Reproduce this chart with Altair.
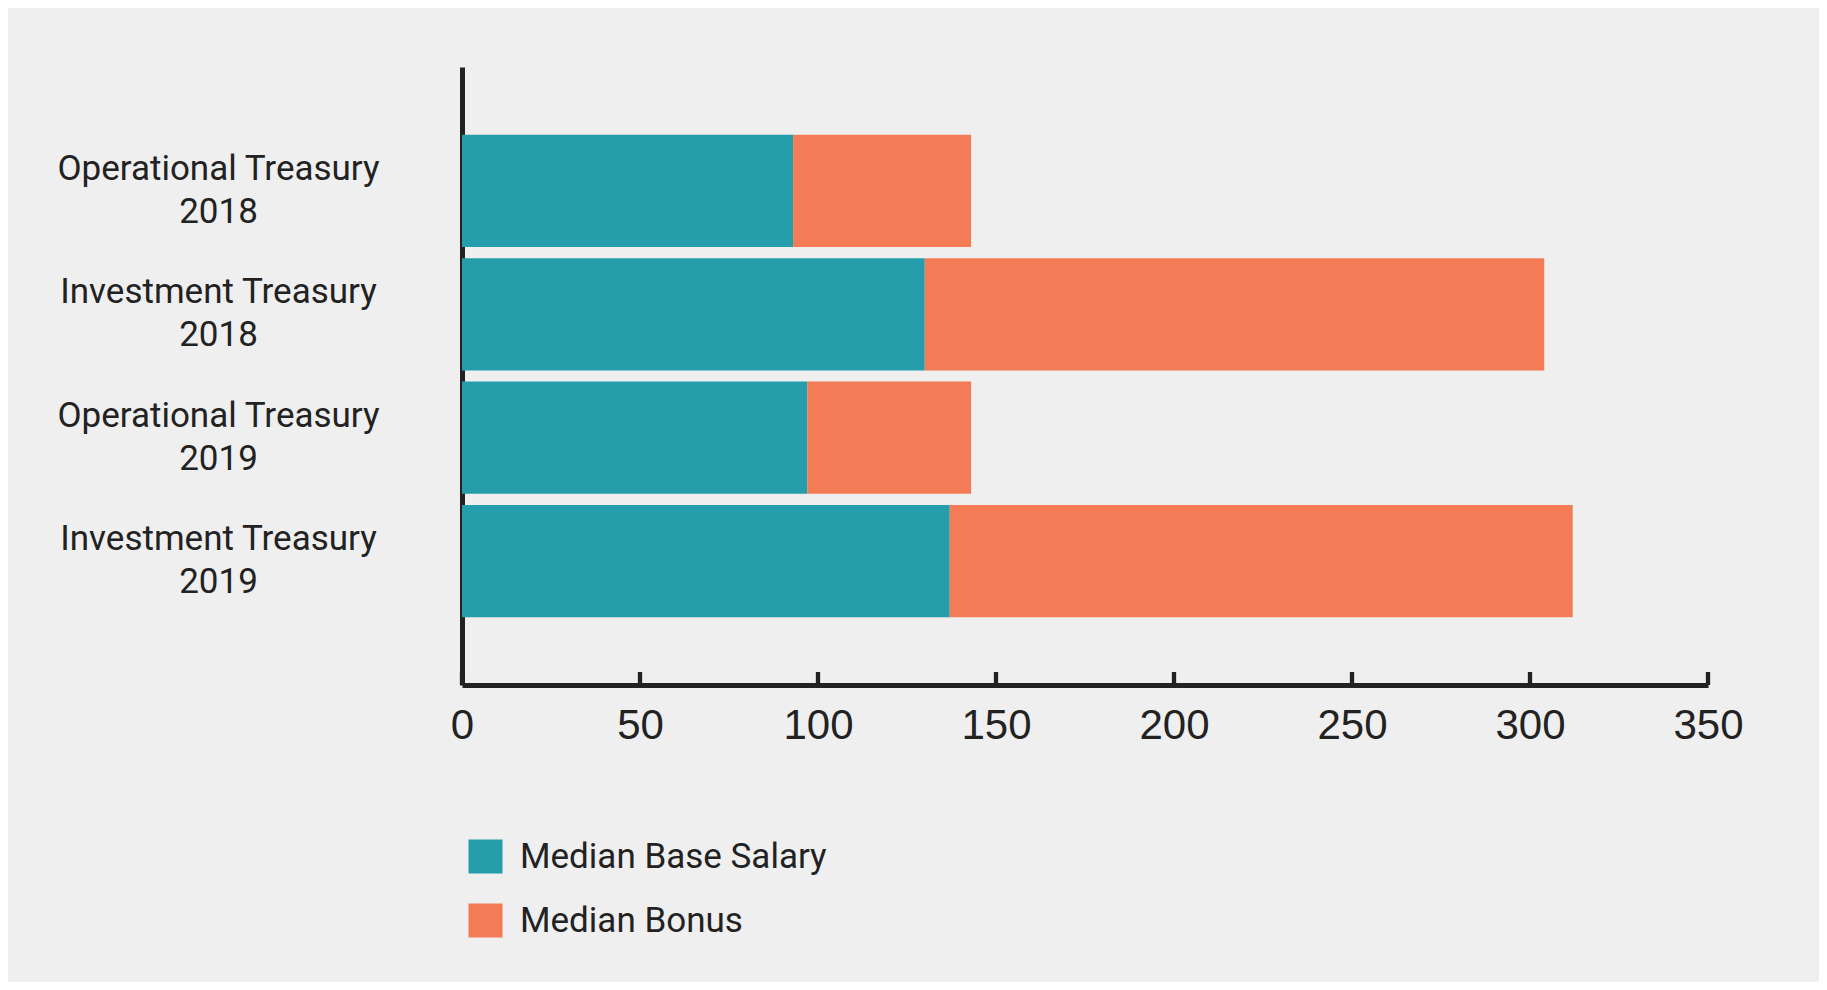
import altair as alt
import pandas as pd

categories = [
    "Operational Treasury\n2018",
    "Investment Treasury\n2018",
    "Operational Treasury\n2019",
    "Investment Treasury\n2019",
]
base_salary = [93, 130, 97, 137]
bonus = [50, 174, 46, 175]
series = ["Median Base Salary", "Median Bonus"]
tick_values = [0, 50, 100, 150, 200, 250, 300, 350]
colors = ["#259dab", "#f37b56"]

rows = []
for c, b, o in zip(categories, base_salary, bonus):
    rows.append({"cat": c, "series": series[0], "value": b, "ord": 0})
    rows.append({"cat": c, "series": series[1], "value": o, "ord": 1})
df = pd.DataFrame(rows)
ticks_df = pd.DataFrame({"t": tick_values})

W, H = 1246, 618

x_axis = alt.Axis(values=tick_values, labelFont="Liberation Sans",
                  labelFontSize=42, labelColor="#222222", labelPadding=20,
                  ticks=False, tickSize=0, domain=True, domainColor="#222222",
                  domainWidth=5, grid=False, labelFlush=False)
x_scale = alt.Scale(domain=[0, 350], nice=False)

bars = alt.Chart(df).mark_bar().encode(
    y=alt.Y("cat:N", sort=categories, title=None,
            scale=alt.Scale(paddingInner=0.09, paddingOuter=0.55),
            axis=alt.Axis(labelExpr="split(datum.value, '\\n')",
                          labelFont="Roboto", labelFontSize=35, labelColor="#222222",
                          labelAlign="center", labelBaseline="middle",
                          labelLineHeight=43, labelPadding=244, labelOffset=-22,
                          ticks=False, tickSize=0,
                          domain=True, domainColor="#222222", domainWidth=5,
                          grid=False, labelLimit=500)),
    x=alt.X("value:Q", stack="zero", title=None, scale=x_scale, axis=x_axis),
    color=alt.Color("series:N", sort=series,
                    scale=alt.Scale(domain=series, range=colors),
                    legend=alt.Legend(title=None, orient="none", legendX=6, legendY=772,
                                      symbolType="square", symbolSize=1156,
                                      symbolStrokeWidth=0, labelFont="Roboto",
                                      labelFontSize=35, labelColor="#222222",
                                      labelOffset=17, rowPadding=28, padding=0,
                                      labelLimit=600, direction="vertical")),
    order=alt.Order("ord:Q"),
)

tick_marks = alt.Chart(ticks_df).mark_rule(color="#222222", strokeWidth=4.3).encode(
    x=alt.X("t:Q", title=None, scale=x_scale, axis=x_axis),
    y=alt.value(H - 13),
    y2=alt.value(H),
)

chart = alt.layer(bars, tick_marks).properties(
    width=W, height=H,
    autosize=alt.AutoSizeParams(type="none"),
    padding={"left": 454, "top": 59, "right": 111, "bottom": 297},
    background="#efefef",
).configure_view(stroke=None)

chart.save("out.html", embed_options={"renderer": "svg", "actions": False})
